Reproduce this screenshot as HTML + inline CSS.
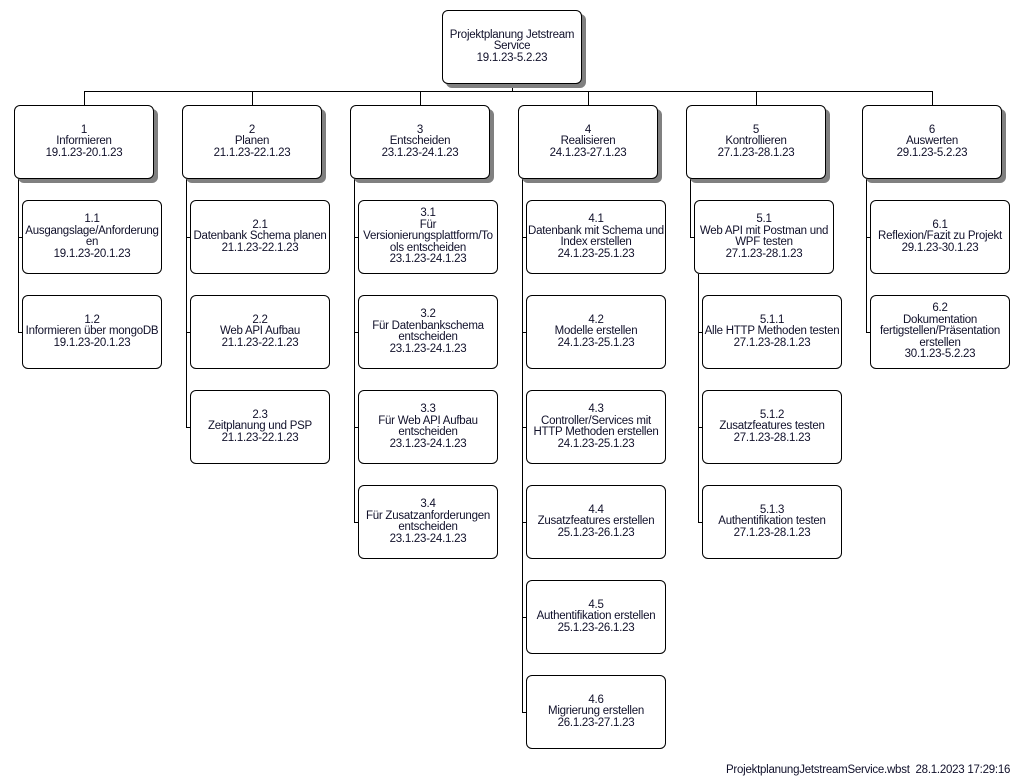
<!DOCTYPE html>
<html><head><meta charset="utf-8"><style>
body{margin:0;width:1030px;height:782px;background:#fff;position:relative;overflow:hidden;font-family:"Liberation Sans",Arial,sans-serif;font-size:11.5px;color:#10102a}
.b{position:absolute;width:138px;height:72px;border:1px solid #000;border-radius:6px;background:#fff;display:flex;align-items:center;justify-content:center;text-align:center;line-height:11.5px;box-sizing:content-box;white-space:nowrap;letter-spacing:-0.25px}
.s{box-shadow:4px 4px 0 #808080}
.h,.v{position:absolute;background:#000}
.h{height:1px}.v{width:1px}
</style></head><body>
<div class="v" style="left:512px;top:84px;height:8px"></div>
<div class="h" style="left:84px;top:91px;width:849px"></div>
<div class="v" style="left:84px;top:91px;height:14px"></div>
<div class="v" style="left:252px;top:91px;height:14px"></div>
<div class="v" style="left:420px;top:91px;height:14px"></div>
<div class="v" style="left:588px;top:91px;height:14px"></div>
<div class="v" style="left:756px;top:91px;height:14px"></div>
<div class="v" style="left:932px;top:91px;height:14px"></div>

<div class="v" style="left:18px;top:179px;height:154px"></div>
<div class="h" style="left:18px;top:237px;width:5px"></div>
<div class="h" style="left:18px;top:332px;width:5px"></div>
<div class="v" style="left:186px;top:179px;height:249px"></div>
<div class="h" style="left:186px;top:237px;width:5px"></div>
<div class="h" style="left:186px;top:332px;width:5px"></div>
<div class="h" style="left:186px;top:427px;width:5px"></div>
<div class="v" style="left:354px;top:179px;height:344px"></div>
<div class="h" style="left:354px;top:237px;width:5px"></div>
<div class="h" style="left:354px;top:332px;width:5px"></div>
<div class="h" style="left:354px;top:427px;width:5px"></div>
<div class="h" style="left:354px;top:522px;width:5px"></div>
<div class="v" style="left:522px;top:179px;height:534px"></div>
<div class="h" style="left:522px;top:237px;width:5px"></div>
<div class="h" style="left:522px;top:332px;width:5px"></div>
<div class="h" style="left:522px;top:427px;width:5px"></div>
<div class="h" style="left:522px;top:522px;width:5px"></div>
<div class="h" style="left:522px;top:617px;width:5px"></div>
<div class="h" style="left:522px;top:712px;width:5px"></div>
<div class="v" style="left:690px;top:179px;height:59px"></div>
<div class="h" style="left:690px;top:237px;width:5px"></div>
<div class="v" style="left:698px;top:274px;height:249px"></div>
<div class="h" style="left:698px;top:332px;width:5px"></div>
<div class="h" style="left:698px;top:427px;width:5px"></div>
<div class="h" style="left:698px;top:522px;width:5px"></div>
<div class="v" style="left:866px;top:179px;height:154px"></div>
<div class="h" style="left:866px;top:237px;width:5px"></div>
<div class="h" style="left:866px;top:332px;width:5px"></div>

<div class="b s" style="left:442px;top:10px">Projektplanung Jetstream<br>Service<br>19.1.23-5.2.23</div>
<div class="b s" style="left:14px;top:105px">1<br>Informieren<br>19.1.23-20.1.23</div>
<div class="b s" style="left:182px;top:105px">2<br>Planen<br>21.1.23-22.1.23</div>
<div class="b s" style="left:350px;top:105px">3<br>Entscheiden<br>23.1.23-24.1.23</div>
<div class="b s" style="left:518px;top:105px">4<br>Realisieren<br>24.1.23-27.1.23</div>
<div class="b s" style="left:686px;top:105px">5<br>Kontrollieren<br>27.1.23-28.1.23</div>
<div class="b s" style="left:862px;top:105px">6<br>Auswerten<br>29.1.23-5.2.23</div>

<div class="b" style="left:22px;top:200px">1.1<br>Ausgangslage/Anforderung<br>en<br>19.1.23-20.1.23</div>
<div class="b" style="left:22px;top:295px">1.2<br>Informieren über mongoDB<br>19.1.23-20.1.23</div>

<div class="b" style="left:190px;top:200px">2.1<br>Datenbank Schema planen<br>21.1.23-22.1.23</div>
<div class="b" style="left:190px;top:295px">2.2<br>Web API Aufbau<br>21.1.23-22.1.23</div>
<div class="b" style="left:190px;top:390px">2.3<br>Zeitplanung und PSP<br>21.1.23-22.1.23</div>

<div class="b" style="left:358px;top:200px">3.1<br>Für<br>Versionierungsplattform/To<br>ols entscheiden<br>23.1.23-24.1.23</div>
<div class="b" style="left:358px;top:295px">3.2<br>Für Datenbankschema<br>entscheiden<br>23.1.23-24.1.23</div>
<div class="b" style="left:358px;top:390px">3.3<br>Für Web API Aufbau<br>entscheiden<br>23.1.23-24.1.23</div>
<div class="b" style="left:358px;top:485px">3.4<br>Für Zusatzanforderungen<br>entscheiden<br>23.1.23-24.1.23</div>

<div class="b" style="left:526px;top:200px">4.1<br>Datenbank mit Schema und<br>Index erstellen<br>24.1.23-25.1.23</div>
<div class="b" style="left:526px;top:295px">4.2<br>Modelle erstellen<br>24.1.23-25.1.23</div>
<div class="b" style="left:526px;top:390px">4.3<br>Controller/Services mit<br>HTTP Methoden erstellen<br>24.1.23-25.1.23</div>
<div class="b" style="left:526px;top:485px">4.4<br>Zusatzfeatures erstellen<br>25.1.23-26.1.23</div>
<div class="b" style="left:526px;top:580px">4.5<br>Authentifikation erstellen<br>25.1.23-26.1.23</div>
<div class="b" style="left:526px;top:675px">4.6<br>Migrierung erstellen<br>26.1.23-27.1.23</div>

<div class="b" style="left:694px;top:200px">5.1<br>Web API mit Postman und<br>WPF testen<br>27.1.23-28.1.23</div>
<div class="b" style="left:702px;top:295px">5.1.1<br>Alle HTTP Methoden testen<br>27.1.23-28.1.23</div>
<div class="b" style="left:702px;top:390px">5.1.2<br>Zusatzfeatures testen<br>27.1.23-28.1.23</div>
<div class="b" style="left:702px;top:485px">5.1.3<br>Authentifikation testen<br>27.1.23-28.1.23</div>

<div class="b" style="left:870px;top:200px">6.1<br>Reflexion/Fazit zu Projekt<br>29.1.23-30.1.23</div>
<div class="b" style="left:870px;top:295px">6.2<br>Dokumentation<br>fertigstellen/Präsentation<br>erstellen<br>30.1.23-5.2.23</div>

<div style="position:absolute;left:726px;top:764px;font-size:11.5px;white-space:nowrap;letter-spacing:-0.25px">ProjektplanungJetstreamService.wbst&nbsp; 28.1.2023 17:29:16</div>
</body></html>
